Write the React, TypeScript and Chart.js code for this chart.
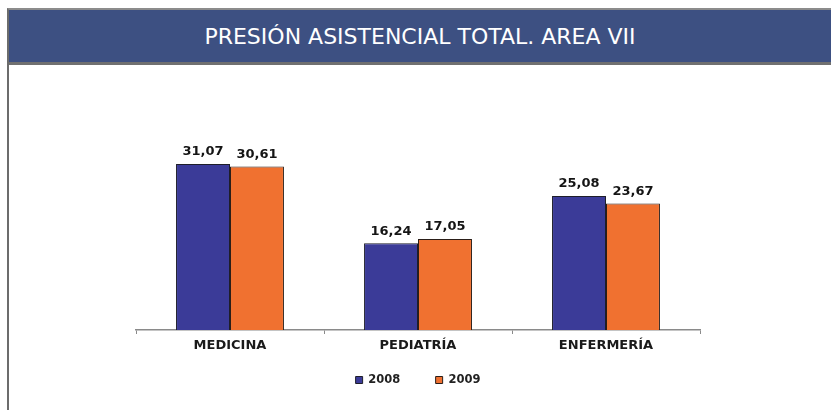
import React, { useEffect, useRef } from "react";
import { Chart, registerables } from "chart.js";

Chart.register(...registerables);

const TITLE = "PRESIÓN ASISTENCIAL TOTAL. AREA VII";
const categories = ["MEDICINA", "PEDIATRÍA", "ENFERMERÍA"];
const seriesNames = ["2008", "2009"];
const values2008 = [31.07, 16.24, 25.08];
const values2009 = [30.61, 17.05, 23.67];
const seriesColors = ["#3b3b98", "#f07130"];

const valueLabels = {
  id: "valueLabels",
  afterDatasetsDraw(chart: any) {
    const ctx = chart.ctx;
    ctx.save();
    ctx.font = "bold 13px 'DejaVu Sans'";
    ctx.fillStyle = "#151515";
    ctx.textAlign = "center";
    ctx.textBaseline = "middle";
    chart.data.datasets.forEach((ds: any, di: number) => {
      const meta = chart.getDatasetMeta(di);
      meta.data.forEach((el: any, i: number) => {
        const v = ds.data[i] as number;
        ctx.fillText(v.toFixed(2).replace(".", ","), el.x, el.y - 12);
      });
    });
    ctx.restore();
  },
};

export default function App() {
  const ref = useRef<HTMLCanvasElement>(null);
  useEffect(() => {
    if (!ref.current) return;
    const chart = new Chart(ref.current, {
      type: "bar",
      data: {
        labels: categories,
        datasets: [
          {
            label: seriesNames[0],
            data: values2008,
            backgroundColor: seriesColors[0],
            borderColor: "#1e1e2a",
            borderWidth: 1,
            categoryPercentage: 0.574,
            barPercentage: 1,
          },
          {
            label: seriesNames[1],
            data: values2009,
            backgroundColor: seriesColors[1],
            borderColor: "#2a1e18",
            borderWidth: 1,
            categoryPercentage: 0.574,
            barPercentage: 1,
          },
        ],
      },
      options: {
        animation: false,
        responsive: false,
        maintainAspectRatio: false,
        layout: { padding: { left: 136, right: 131, top: 143, bottom: 14.25 } },
        plugins: {
          title: { display: false },
          tooltip: { enabled: false },
          legend: {
            display: true,
            position: "bottom",
            labels: {
              boxWidth: 7,
              boxHeight: 7,
              padding: 35.25,
              color: "#222",
              font: { family: "'DejaVu Sans'", size: 11.5, weight: "bold" },
            },
          },
        },
        scales: {
          x: {
            afterFit: (scale: any) => {
              scale.height = 9;
            },
            grid: {
              display: true,
              drawOnChartArea: false,
              drawTicks: true,
              tickLength: 4,
              color: "#8a8a8a",
            },
            border: { display: true, color: "#8a8a8a", width: 1.5 },
            ticks: {
              mirror: true,
              padding: -23.8,
              color: "#1a1a1a",
              font: { family: "'DejaVu Sans'", size: 13, weight: "bold" },
            },
          },
          y: {
            display: false,
            min: 0,
            max: 35,
          },
        },
      },
      plugins: [valueLabels],
    });
    return () => chart.destroy();
  }, []);

  return (
    <div
      style={{
        position: "fixed",
        left: 0,
        top: 0,
        width: 831,
        height: 410,
        background: "#fff",
        overflow: "hidden",
      }}
    >
      <canvas
        ref={ref}
        width={831}
        height={410}
        style={{ position: "absolute", left: 0, top: 0, width: 831, height: 410 }}
      />
      <div
        style={{
          position: "absolute",
          left: 7,
          top: 8,
          width: 840,
          height: 420,
          borderLeft: "2px solid #6c6c6c",
          borderTop: "2px solid #8c8c8c",
          pointerEvents: "none",
        }}
      >
        <div
          style={{
            height: 52,
            background: "#3d5082",
            borderBottom: "3px solid #707070",
            width: 822,
            display: "flex",
            alignItems: "center",
            justifyContent: "center",
            color: "#ffffff",
            fontFamily: "'DejaVu Sans', sans-serif",
            fontSize: 22,
            whiteSpace: "nowrap",
          }}
        >
          {TITLE}
        </div>
      </div>
    </div>
  );
}
